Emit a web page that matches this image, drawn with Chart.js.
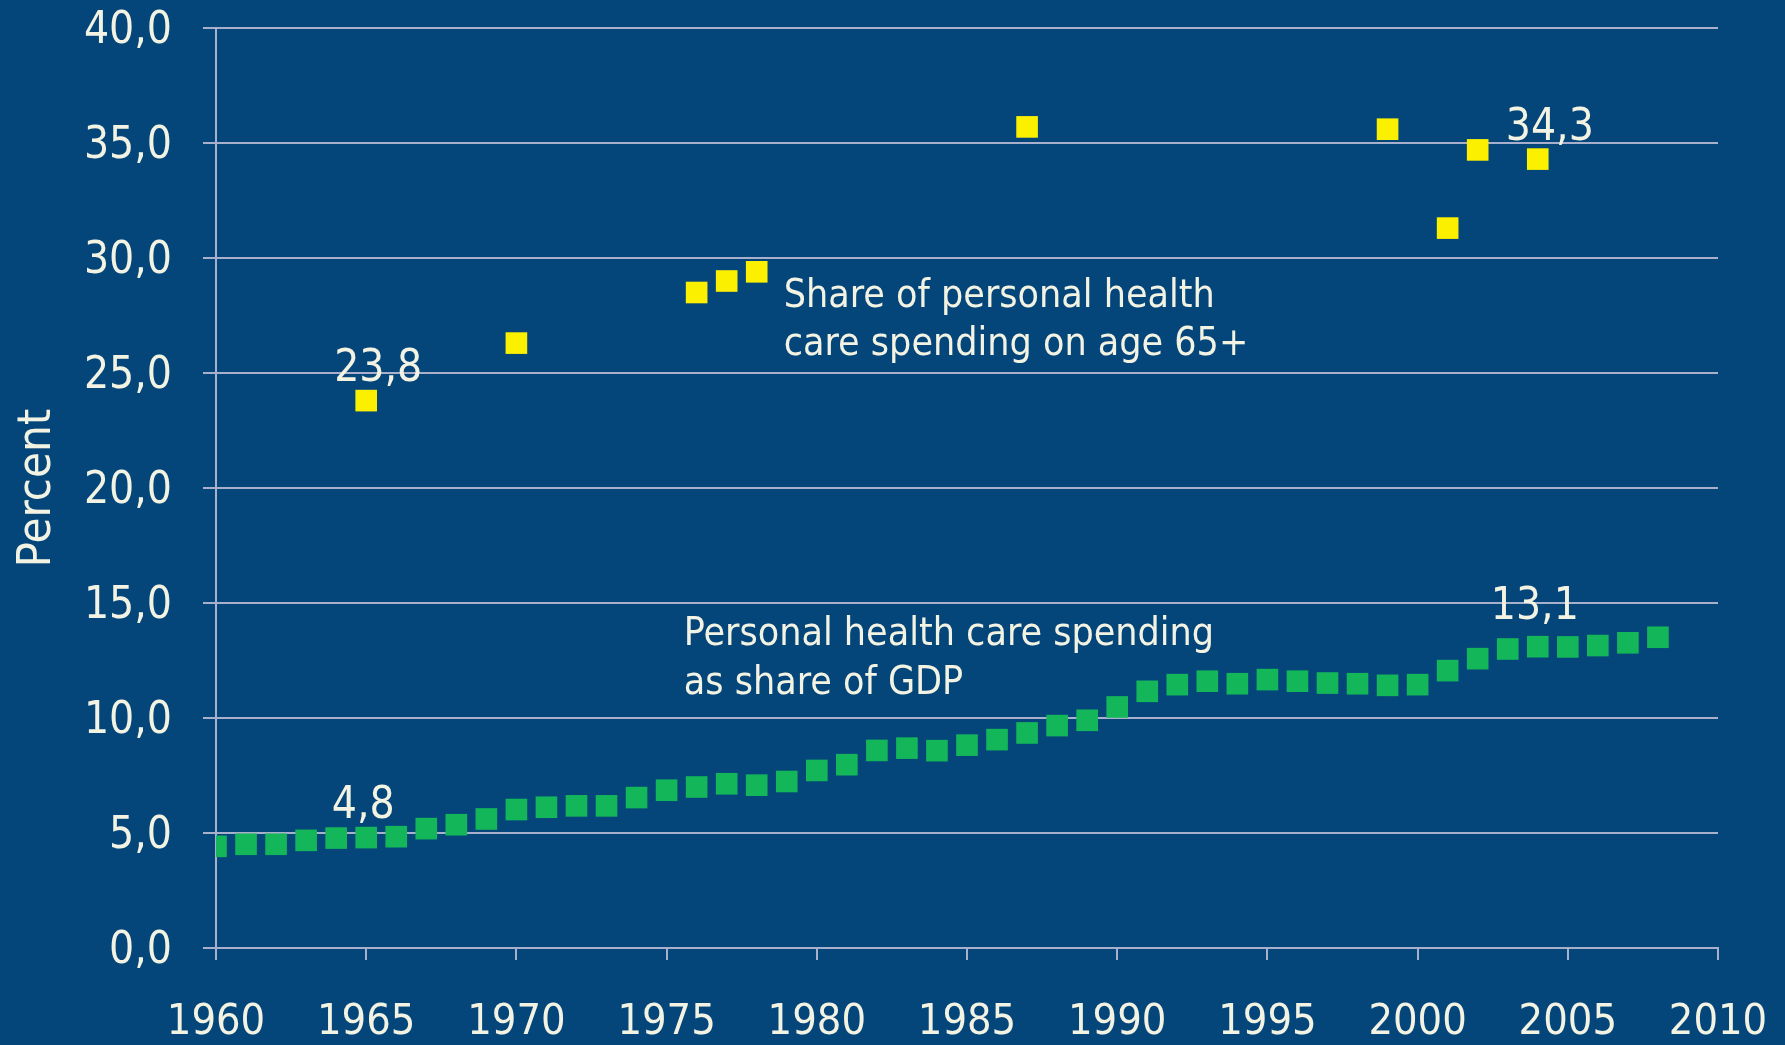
<!DOCTYPE html>
<html>
<head>
<meta charset="utf-8">
<title>Personal health care spending</title>
<script src="https://cdn.jsdelivr.net/npm/chart.js@4.4.1/dist/chart.umd.min.js"></script>
<style>
  html, body { margin: 0; padding: 0; background: #04457A; }
  #wrap { width: 1785px; height: 1045px; }
</style>
</head>
<body>
<div id="wrap"><canvas id="chart" width="1785" height="1045"></canvas></div>
<script>
// Years covered by the GDP series
const years = [
  1960, 1961, 1962, 1963, 1964, 1965, 1966, 1967, 1968, 1969,
  1970, 1971, 1972, 1973, 1974, 1975, 1976, 1977, 1978, 1979,
  1980, 1981, 1982, 1983, 1984, 1985, 1986, 1987, 1988, 1989,
  1990, 1991, 1992, 1993, 1994, 1995, 1996, 1997, 1998, 1999,
  2000, 2001, 2002, 2003, 2004, 2005, 2006, 2007, 2008
];
// Personal health care spending as share of GDP (%)
const gdpShare = [
  4.42, 4.51, 4.51, 4.68, 4.78, 4.8, 4.84, 5.19, 5.36, 5.61,
  6.02, 6.12, 6.18, 6.18, 6.54, 6.86, 7.0, 7.14, 7.08, 7.24,
  7.72, 7.97, 8.59, 8.69, 8.58, 8.82, 9.06, 9.35, 9.67, 9.9,
  10.48, 11.16, 11.45, 11.6, 11.49, 11.67, 11.6, 11.52, 11.49, 11.42,
  11.45, 12.06, 12.58, 13.0, 13.1, 13.09, 13.15, 13.27, 13.51
];
// Survey years for the age 65+ share
const elderYears = [1965, 1970, 1976, 1977, 1978, 1987, 1999, 2001, 2002, 2004];
// Share of personal health care spending on age 65+ (%)
const elderShare = [23.8, 26.3, 28.5, 29.0, 29.4, 35.7, 35.6, 31.3, 34.7, 34.3];

// Axis ticks
const yTicks = [0, 5, 10, 15, 20, 25, 30, 35, 40];
const xTicks = [1960, 1965, 1970, 1975, 1980, 1985, 1990, 1995, 2000, 2005, 2010];

// Series captions
const elderCaption = ['Share of personal health', 'care spending on age 65+'];
const gdpCaption = ['Personal health care spending', 'as share of GDP'];

// Points whose value is written next to them: [dataset, year]
const labelledPoints = [[0, 1965], [0, 2004], [1, 1965], [1, 2004]];

const TEXT = '#F3F3E3';
const GRID = '#A9B0CC';
const FONT = "'DejaVu Sans Condensed', 'Noto Sans', sans-serif";
const fmt = v => v.toFixed(1).replace('.', ',');

const annotate = {
  id: 'annotate',
  afterDatasetsDraw(chart) {
    const { ctx, scales: { x, y } } = chart;
    ctx.save();
    ctx.fillStyle = TEXT;
    ctx.textAlign = 'center';
    ctx.textBaseline = 'middle';
    ctx.font = `44px ${FONT}`;
    labelledPoints.forEach(([ds, yr]) => {
      const pt = chart.data.datasets[ds].data.find(p => p.x === yr);
      const px = x.getPixelForValue(pt.x);
      const py = y.getPixelForValue(pt.y);
      const dx = ds === 1 ? 12 : -3;
      const dy = (ds === 0 && yr === 2004) ? -39 : -31;
      ctx.fillText(fmt(pt.y), px + dx, py + dy);
    });
    ctx.textAlign = 'left';
    ctx.font = `39px ${FONT}`;
    const drawCaption = (lines, xv, yv, gap) => {
      lines.forEach((t, i) => ctx.fillText(t, x.getPixelForValue(xv), y.getPixelForValue(yv) + i * gap));
    };
    drawCaption(elderCaption, 1978.9, 28.32, 48);
    drawCaption(gdpCaption, 1975.57, 13.61, 49);
    ctx.restore();
  }
};

new Chart(document.getElementById('chart'), {
  type: 'scatter',
  data: {
    datasets: [
      {
        label: 'Personal health care spending as share of GDP',
        data: years.map((yr, i) => ({ x: yr, y: gdpShare[i] })),
        backgroundColor: '#14B65A',
        borderWidth: 0,
        pointStyle: 'rect',
        pointRadius: 15.3
      },
      {
        label: 'Share of personal health care spending on age 65+',
        data: elderYears.map((yr, i) => ({ x: yr, y: elderShare[i] })),
        backgroundColor: '#FAF000',
        borderWidth: 0,
        pointStyle: 'rect',
        pointRadius: 15.3
      }
    ]
  },
  options: {
    responsive: false,
    animation: false,
    devicePixelRatio: 1,
    events: [],
    layout: { padding: { top: 28, right: 67, left: 0, bottom: 0 } },
    plugins: { legend: { display: false }, tooltip: { enabled: false } },
    scales: {
      x: {
        type: 'linear',
        min: 1960,
        max: 2010,
        afterBuildTicks: s => { s.ticks = xTicks.map(v => ({ value: v })); },
        afterFit: s => { s.height = 97; s.paddingLeft = 0; s.paddingRight = 0; },
        grid: { drawOnChartArea: false, drawTicks: true, tickLength: 12, color: GRID, lineWidth: 2 },
        border: { display: true, color: GRID, width: 2 },
        ticks: {
          color: TEXT,
          font: { family: FONT, size: 43 },
          padding: 37,
          maxRotation: 0,
          autoSkip: false,
          callback: v => String(v)
        }
      },
      y: {
        min: 0,
        max: 40,
        afterBuildTicks: s => { s.ticks = yTicks.map(v => ({ value: v })); },
        afterFit: s => { s.width = 216; s.paddingTop = 0; s.paddingBottom = 0; },
        grid: { color: GRID, lineWidth: 2, tickLength: 13, drawTicks: true },
        border: { display: true, color: GRID, width: 2 },
        title: {
          display: true,
          text: 'Percent',
          color: TEXT,
          font: { family: FONT, size: 47 },
          padding: { top: 10, bottom: 0 }
        },
        ticks: {
          color: TEXT,
          font: { family: FONT, size: 44 },
          padding: 31,
          labelOffset: 4,
          callback: v => fmt(v)
        }
      }
    }
  },
  plugins: [annotate]
});
</script>
</body>
</html>
